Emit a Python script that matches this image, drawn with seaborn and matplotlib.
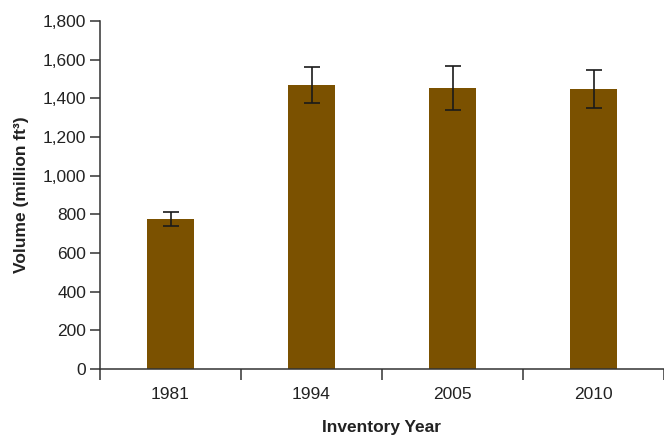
import matplotlib
matplotlib.use("Agg")
import matplotlib.pyplot as plt
import seaborn as sns
import pandas as pd
from matplotlib.ticker import FuncFormatter, FixedLocator

# Inventory volume by year with error bars
years = ["1981", "1994", "2005", "2010"]
volume = [776, 1469, 1454, 1449]
error = [35, 93, 114, 98]

df = pd.DataFrame({"year": years, "volume": volume})

sns.set_theme(style="white")
plt.rcParams["font.family"] = ["Liberation Sans", "DejaVu Sans"]

fig = plt.figure(figsize=(6.64, 4.37), dpi=100)
ax = fig.add_axes([100 / 664, 1 - 369 / 437, 1 - 100 / 664, (369 - 21) / 437])

bar_color = "#7B5100"
sns.barplot(data=df, x="year", y="volume", color=bar_color, width=0.34,
            saturation=1, ax=ax, errorbar=None, linewidth=0)
ax.errorbar(range(len(years)), volume, yerr=error, fmt="none",
            ecolor="#1a1a1a", elinewidth=1.2, capsize=6, capthick=1.2)

ax.set_xlim(-0.5, len(years) - 0.5)
ax.set_ylim(0, 1800)
ax.yaxis.set_major_locator(FixedLocator(range(0, 1801, 200)))
ax.yaxis.set_major_formatter(FuncFormatter(lambda v, p: f"{int(v):,}"))

# Ticks at category boundaries, labels centred under the bars
ax.set_xticks([i - 0.5 for i in range(len(years) + 1)])
ax.set_xticklabels([])
ax.set_xticks(range(len(years)), minor=True)
ax.set_xticklabels(years, minor=True)
ax.tick_params(axis="x", which="major", direction="out", length=8, width=1.1,
               color="#333333", bottom=True)
ax.tick_params(axis="x", which="minor", length=0, pad=13, labelsize=12.5,
               labelcolor="#222222")
ax.tick_params(axis="y", direction="out", length=7, width=1.1, color="#333333",
               left=True, labelsize=12.5, labelcolor="#222222", pad=3)

for side in ("top", "right"):
    ax.spines[side].set_visible(False)
for side in ("left", "bottom"):
    ax.spines[side].set_color("#333333")
    ax.spines[side].set_linewidth(1.1)

ax.set_xlabel("Inventory Year", fontsize=12.5, fontweight="bold",
              color="#222222", labelpad=13)
ax.set_ylabel("Volume (million ft³)", fontsize=12.5, fontweight="bold",
              color="#222222", labelpad=10)

fig.savefig("out.png", dpi=100)
